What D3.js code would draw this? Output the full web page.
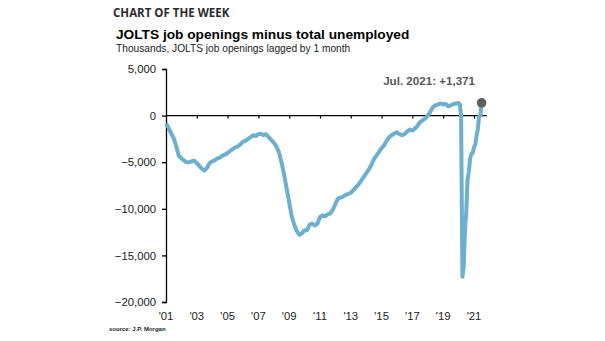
<!DOCTYPE html>
<html>
<head>
<meta charset="utf-8">
<style>
  body { margin: 0; background: #fff; }
  svg { display: block; font-family: "Liberation Sans", Arial, sans-serif; }
</style>
</head>
<body>
<div id="chart"></div>
<script src="https://cdn.jsdelivr.net/npm/d3@7"></script>
<script>
// data: JOLTS openings (lagged 1m) minus unemployed, thousands
const months = [
  '2001-01','2001-03','2001-05','2001-07','2001-09','2001-11',
  '2002-01','2002-03','2002-05','2002-07','2002-09','2002-11',
  '2003-01','2003-03','2003-05','2003-07','2003-09','2003-11',
  '2004-01','2004-03','2004-05','2004-07','2004-09','2004-11',
  '2005-01','2005-03','2005-05','2005-07','2005-09','2005-11',
  '2006-01','2006-03','2006-05','2006-07','2006-09','2006-11',
  '2007-01','2007-03','2007-05','2007-07','2007-09','2007-11',
  '2008-01','2008-03','2008-05','2008-07','2008-09','2008-11',
  '2009-01','2009-03','2009-05','2009-07','2009-09','2009-11',
  '2010-01','2010-03','2010-05','2010-07','2010-09','2010-11',
  '2011-01','2011-03','2011-05','2011-07','2011-09','2011-11',
  '2012-01','2012-03','2012-05','2012-07','2012-09','2012-11',
  '2013-01','2013-03','2013-05','2013-07','2013-09','2013-11',
  '2014-01','2014-03','2014-05','2014-07','2014-09','2014-11',
  '2015-01','2015-03','2015-05','2015-07','2015-09','2015-11',
  '2016-01','2016-03','2016-05','2016-07','2016-09','2016-11',
  '2017-01','2017-03','2017-05','2017-07','2017-09','2017-11',
  '2018-01','2018-03','2018-05','2018-07','2018-09','2018-11',
  '2019-01','2019-03','2019-05','2019-07','2019-09','2019-11',
  '2020-01','2020-02','2020-03','2020-04','2020-05','2020-06',
  '2020-07','2020-08','2020-09','2020-10','2020-11','2020-12',
  '2021-01','2021-02','2021-03','2021-04','2021-05','2021-06','2021-07'
];
const gap = [
  -860, -1300, -1900, -2400, -3300, -4300,
  -4600, -4800, -5000, -5000, -4900, -4850,
  -5100, -5400, -5700, -5900, -5600, -5100,
  -4900, -4800, -4600, -4500, -4300, -4200,
  -4000, -3800, -3600, -3400, -3300, -3100,
  -2800, -2700, -2500, -2300, -2100, -2200,
  -2000, -1950, -2100, -2000, -2300, -2600,
  -2900, -3300, -3900, -5000, -6300, -7800,
  -9300, -10800, -11700, -12400, -12800, -12600,
  -12300, -12300, -11700, -11600, -11800, -11600,
  -10900, -10700, -10800, -10600, -10500, -10100,
  -9500, -8900, -8800, -8700, -8500, -8400,
  -8300, -8000, -7700, -7400, -7000, -6600,
  -6200, -5800, -5300, -4700, -4300, -3900,
  -3500, -3200, -2700, -2300, -2100, -1900,
  -1800, -2000, -2100, -2000, -1700, -1500,
  -1600, -1400, -1100, -700, -500, -300,
  0, 400, 900, 1100, 1200, 1300,
  1200, 1250, 1000, 1100, 1250, 1300,
  1350, 1200, -100, -17300, -16300, -12300,
  -10300, -6900, -6000, -4600, -4100, -4000,
  -3400, -3100, -2200, -1500, -100, 0, 1371
];
const yTicks = [5000, 0, -5000, -10000, -15000, -20000];
const xTickYears = [2001, 2003, 2005, 2007, 2009, 2011, 2013, 2015, 2017, 2019, 2021];

const W = 605, H = 341;
const parse = d3.timeParse('%Y-%m');
const data = months.map((m, i) => ({ date: parse(m), value: gap[i] }));

const svg = d3.select('#chart').append('svg')
  .attr('width', W).attr('height', H);

svg.append('rect').attr('width', W).attr('height', H).attr('fill', '#fff');

const x = d3.scaleTime()
  .domain([new Date(2001, 0, 1), new Date(2021, 0, 1)])
  .range([166, 474]);
const y = d3.scaleLinear()
  .domain([-20000, 5000])
  .range([302, 69]);

// titles
svg.append('text')
  .attr('x', 113).attr('y', 17)
  .attr('fill', '#2b2b2b')
  .style('font-family', '"Open Sans", sans-serif')
  .style('font-weight', 700)
  .style('font-size', '11.5px')
  .text('CHART OF THE WEEK');

svg.append('text')
  .attr('x', 116).attr('y', 39)
  .attr('fill', '#000')
  .style('font-weight', 700)
  .style('font-size', '13.7px')
  .text('JOLTS job openings minus total unemployed');

svg.append('text')
  .attr('x', 116).attr('y', 52)
  .attr('fill', '#222')
  .style('font-size', '10.2px')
  .text('Thousands, JOLTS job openings lagged by 1 month');

// y axis
const yAxis = svg.append('g')
  .attr('transform', 'translate(166,0)')
  .call(d3.axisLeft(y).tickValues(yTicks).tickSize(4).tickPadding(6)
    .tickFormat(d3.format(',')));
yAxis.select('.domain').attr('stroke', '#000').attr('stroke-width', 1.3);
yAxis.selectAll('.tick line').attr('stroke', '#000').attr('stroke-width', 1.3);
yAxis.selectAll('.tick text')
  .attr('fill', '#222')
  .style('font-size', '11.3px')
  .style('font-family', '"Liberation Sans", Arial, sans-serif');

// zero line with downward ticks
const xAxis = svg.append('g')
  .attr('transform', `translate(0,${y(0)})`)
  .call(d3.axisBottom(x)
    .tickValues(xTickYears.slice(1).map(yr => new Date(yr, 0, 1)))
    .tickSize(3).tickFormat(''));
xAxis.select('.domain').remove();
xAxis.selectAll('.tick line').attr('stroke', '#000').attr('stroke-width', 1.2);
svg.append('line')
  .attr('x1', 166).attr('x2', x(new Date(2021, 10, 1)))
  .attr('y1', y(0)).attr('y2', y(0))
  .attr('stroke', '#000').attr('stroke-width', 1.3);

// x tick labels along the bottom
svg.append('g').selectAll('text')
  .data(xTickYears)
  .join('text')
  .attr('x', d => x(new Date(d, 0, 1)))
  .attr('y', 320)
  .attr('text-anchor', 'middle')
  .attr('fill', '#222')
  .style('font-size', '11.3px')
  .text(d => "'" + String(d).slice(2));

// series
const line = d3.line()
  .x(d => x(d.date))
  .y(d => y(d.value))
  .curve(d3.curveLinear);

svg.append('path')
  .datum(data)
  .attr('fill', 'none')
  .attr('stroke', '#6cb0cd')
  .attr('stroke-width', 4)
  .attr('stroke-linejoin', 'round')
  .attr('d', line);

const last = data[data.length - 1];
svg.append('circle')
  .attr('cx', x(last.date)).attr('cy', y(last.value))
  .attr('r', 4.8)
  .attr('fill', '#5e5e5e');

svg.append('text')
  .attr('x', 475).attr('y', 85)
  .attr('text-anchor', 'end')
  .attr('fill', '#595959')
  .style('font-weight', 700)
  .style('font-size', '11.6px')
  .text('Jul. 2021: ' + d3.format('+,')(last.value));

svg.append('text')
  .attr('x', 109).attr('y', 331)
  .attr('fill', '#222')
  .style('font-weight', 700)
  .style('font-size', '6px')
  .text('source: J.P. Morgan');
</script>
</body>
</html>
